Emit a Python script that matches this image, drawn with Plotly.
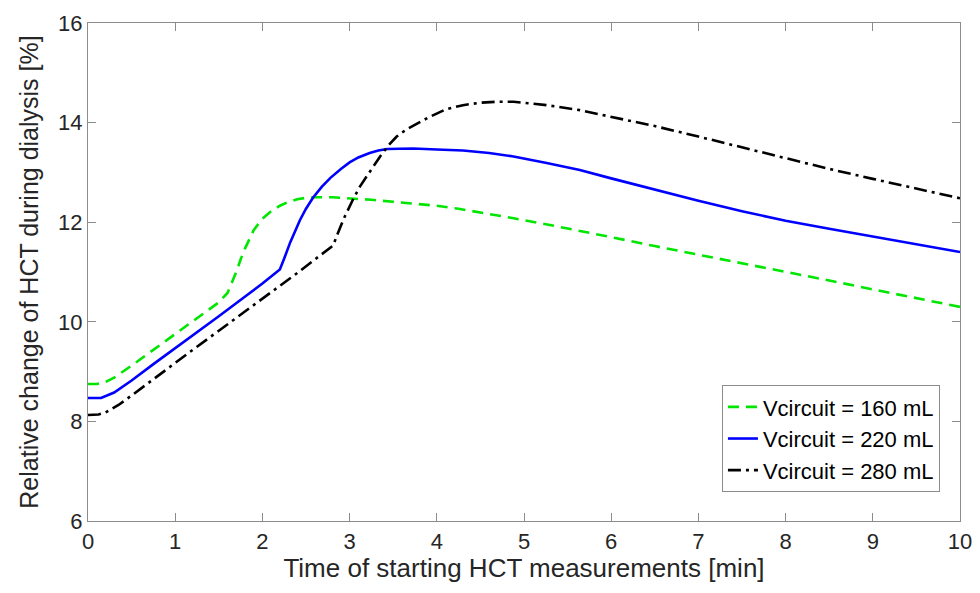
import plotly.graph_objects as go

# ---- data ----
x160 = [0, 0.1, 0.2, 0.3, 0.5, 0.75, 1.0, 1.25, 1.5, 1.6, 1.65, 1.7, 1.75, 1.8, 1.9, 2.0, 2.1, 2.2, 2.3,
        2.4, 2.5, 2.6, 2.8, 3.0, 3.25, 3.5, 3.75, 4.0, 4.25, 4.5, 4.88, 5.25, 5.64, 6.0, 6.5, 7.0, 7.5,
        8.0, 8.5, 9.0, 9.5, 10.0]
y160 = [8.75, 8.75, 8.79, 8.88, 9.12, 9.44, 9.76, 10.07, 10.39, 10.58, 10.78, 11.0, 11.25, 11.47, 11.84,
        12.07, 12.22, 12.33, 12.41, 12.46, 12.49, 12.5, 12.5, 12.48, 12.45, 12.41, 12.37, 12.33, 12.27,
        12.2, 12.08, 11.96, 11.83, 11.7, 11.52, 11.35, 11.18, 11.0, 10.83, 10.65, 10.48, 10.30]

x220 = [0, 0.15, 0.3, 0.5, 0.75, 1.0, 1.5, 2.0, 2.2, 2.25, 2.32, 2.43, 2.5, 2.58, 2.68, 2.78, 2.9, 3.0,
        3.1, 3.23, 3.33, 3.43, 3.58, 3.73, 4.0, 4.3, 4.6, 4.88, 5.26, 5.64, 6.0, 6.5, 7.0, 7.5, 8.0, 8.5,
        9.0, 9.5, 10.0]
y220 = [8.47, 8.47, 8.58, 8.82, 9.15, 9.47, 10.11, 10.77, 11.05, 11.27, 11.6, 12.04, 12.27, 12.49, 12.71,
        12.89, 13.07, 13.2, 13.3, 13.39, 13.44, 13.47, 13.48, 13.48, 13.46, 13.44, 13.39, 13.32, 13.19,
        13.05, 12.88, 12.65, 12.43, 12.22, 12.03, 11.87, 11.71, 11.55, 11.40]

x280 = [0, 0.12, 0.2, 0.35, 0.5, 0.75, 1.0, 1.25, 1.5, 1.75, 2.0, 2.2, 2.4, 2.6, 2.81, 2.87, 2.93, 3.04,
        3.12, 3.2, 3.35, 3.45, 3.54, 3.65, 3.73, 3.9, 4.11, 4.3, 4.5, 4.7, 4.88, 5.07, 5.26, 5.64, 6.0,
        6.5, 7.0, 7.5, 8.0, 8.5, 9.0, 9.5, 10.0]
y280 = [8.13, 8.14, 8.18, 8.33, 8.52, 8.85, 9.17, 9.5, 9.82, 10.14, 10.45, 10.72, 10.98, 11.25, 11.53,
        11.8, 12.06, 12.46, 12.72, 12.93, 13.32, 13.55, 13.72, 13.86, 13.94, 14.1, 14.27, 14.35, 14.4,
        14.42, 14.42, 14.39, 14.35, 14.25, 14.12, 13.93, 13.72, 13.5, 13.28, 13.07, 12.87, 12.67, 12.48]

names = ["Vcircuit = 160 mL", "Vcircuit = 220 mL", "Vcircuit = 280 mL"]
x_ticks = [0, 1, 2, 3, 4, 5, 6, 7, 8, 9, 10]
y_ticks = [6, 8, 10, 12, 14, 16]

FONT = "Liberation Sans, Arial, sans-serif"
TXT = "#262626"

fig = go.Figure()
fig.add_trace(go.Scatter(x=x160, y=y160, mode="lines", name=names[0],
                         line=dict(color="#00e600", width=2.6, dash="11px,7px")))
fig.add_trace(go.Scatter(x=x220, y=y220, mode="lines", name=names[1],
                         line=dict(color="#0000ff", width=2.6)))
fig.add_trace(go.Scatter(x=x280, y=y280, mode="lines", name=names[2],
                         line=dict(color="#000000", width=2.6, dash="13px,5px,3px,5px")))

axis_common = dict(
    showline=True, linecolor="#8c8c8c", linewidth=1.2, mirror="ticks",
    ticks="inside", ticklen=8, tickcolor="#8c8c8c", tickwidth=1.2,
    showgrid=False, zeroline=False, automargin=False, ticklabeloverflow="allow",
    tickfont=dict(family=FONT, size=22, color=TXT),
)

fig.update_xaxes(range=[0, 10], tickvals=x_ticks, ticktext=[str(v) for v in x_ticks],
                 title=dict(text="Time of starting HCT measurements [min]",
                            font=dict(family=FONT, size=26, color=TXT), standoff=2),
                 **axis_common)
fig.update_yaxes(range=[6, 16], tickvals=y_ticks, ticktext=[str(v) for v in y_ticks],
                 title=dict(text="Relative change of HCT during dialysis [%]",
                            font=dict(family=FONT, size=25, color=TXT), standoff=12),
                 **axis_common)

# page body has an 8px default margin, so the figure is 8px smaller and margins shifted
fig.update_layout(
    width=972, height=585,
    margin=dict(l=80, r=20, t=15, b=72),
    paper_bgcolor="white", plot_bgcolor="white",
    showlegend=True,
    legend=dict(x=0.977, y=0.058, xanchor="right", yanchor="bottom",
                bgcolor="white", bordercolor="#8c8c8c", borderwidth=1,
                font=dict(family=FONT, size=22, color="#000000"),
                itemwidth=30, tracegroupgap=0),
)

fig.write_html("out.html")
